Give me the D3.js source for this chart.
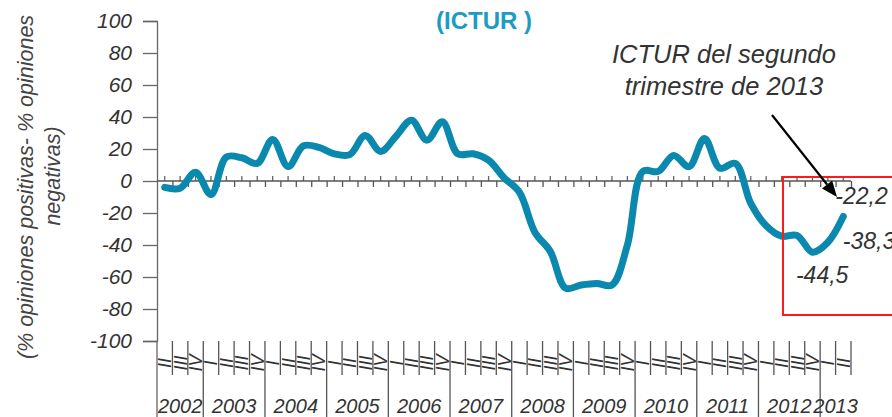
<!DOCTYPE html>
<html>
<head>
<meta charset="utf-8">
<script src="https://cdn.jsdelivr.net/npm/d3@7"></script>
<style>
  html, body { margin: 0; padding: 0; background: #fff; }
  svg { display: block; }
  text { font-family: "Liberation Sans", Arial, Helvetica, sans-serif; }
</style>
</head>
<body>
<svg id="chart" width="892" height="417"></svg>
<script>
// ---------- data ----------
const years = ["2002","2003","2004","2005","2006","2007","2008","2009","2010","2011","2012","2013"];
const quartersPerYear = [
  ["II","III","IV"],
  ["I","II","III","IV"], ["I","II","III","IV"], ["I","II","III","IV"], ["I","II","III","IV"],
  ["I","II","III","IV"], ["I","II","III","IV"], ["I","II","III","IV"], ["I","II","III","IV"],
  ["I","II","III","IV"], ["I","II","III","IV"],
  ["I","II"]
];
const ictur = [-4, -4.5, 5.5, -8.5, 15, 14.5, 11, 26, 9, 22, 21, 17, 16.5, 28.5, 18.5,
  28, 38, 25.5, 37, 17, 17, 13, 2, -7, -32, -44, -67, -65, -64, -65, -40,
  6, 6, 16, 9, 26.5, 8, 11, -14, -28, -34.5, -34, -44.5, -38.3, -22.2];
const yTicks = [100, 80, 60, 40, 20, 0, -20, -40, -60, -80, -100];
const highlighted = [
  {index: 44, text: "-22,2", dx: -8, dy: -12.5},
  {index: 43, text: "-38,3", dx: 15, dy: 7},
  {index: 42, text: "-44,5", dx: -16.5, dy: 31}
];
const titleText = "(ICTUR )";
const yLabelLines = ["(% opiniones positivas- % opiniones", "negativas)"];
const noteLines = ["ICTUR del segundo", "trimestre de 2013"];

(function () {
const cats = [];
quartersPerYear.forEach((qs, yi) => qs.forEach(q => cats.push({year: years[yi], q})));

const svg = d3.select("#chart");
const pLeft = 157, pRight = 851, pTop = 21, pBottom = 341;

const x = d3.scaleBand().domain(d3.range(cats.length)).range([pLeft, pRight]).padding(0);
const xb = d3.scaleLinear().domain([0, cats.length]).range([pLeft, pRight]);
const y = d3.scaleLinear().domain([-100, 100]).range([pBottom, pTop]);
const cx = i => x(i) + x.bandwidth() / 2;

const textCol = "#333";

// ---------- y axis ----------
const yAxis = svg.append("g").attr("transform", `translate(${pLeft},0)`)
  .call(d3.axisLeft(y).tickValues(yTicks).tickSize(14).tickPadding(11).tickFormat(d => String(d)));
yAxis.select(".domain").attr("stroke", "#666").attr("stroke-width", 1.3);
yAxis.selectAll(".tick line").attr("stroke", "#666").attr("stroke-width", 1.3);
yAxis.selectAll(".tick text").attr("font-size", 21).attr("font-style", "italic").attr("fill", textCol)
  .attr("font-family", "'Liberation Sans', Arial, sans-serif");
svg.append("line").attr("x1", pLeft).attr("x2", pLeft).attr("y1", pBottom).attr("y2", 417)
  .attr("stroke", "#666").attr("stroke-width", 1.3);

// ---------- x axis on zero ----------
const xTop = svg.append("g").attr("transform", `translate(0,${y(0)})`)
  .call(d3.axisTop(x).tickSize(5).tickFormat(""));
xTop.select(".domain").remove();
xTop.selectAll(".tick line").attr("stroke", "#666").attr("stroke-width", 1.3);
const xBot = svg.append("g").attr("transform", `translate(0,${y(0)})`)
  .call(d3.axisBottom(xb).tickValues(d3.range(1, cats.length + 1)).tickSize(6).tickFormat(""));
xBot.select(".domain").remove();
xBot.selectAll(".tick line").attr("stroke", "#555").attr("stroke-width", 1.3);
svg.append("line").attr("x1", pLeft).attr("x2", pRight).attr("y1", y(0)).attr("y2", y(0))
  .attr("stroke", "#555").attr("stroke-width", 1.3);

// ---------- category area ----------
const yearStart = [];
let acc = 0;
quartersPerYear.forEach(qs => { yearStart.push(acc); acc += qs.length; });
const yearStartSet = new Set(yearStart);
d3.range(1, cats.length + 1).forEach(k => {
  const full = yearStartSet.has(k);
  svg.append("line").attr("x1", xb(k)).attr("x2", xb(k))
    .attr("y1", pBottom).attr("y2", full ? 417 : 375)
    .attr("stroke", "#555").attr("stroke-width", 1.3);
});
svg.append("g").selectAll("text").data(cats).join("text")
  .attr("transform", (d, i) => `translate(${cx(i) + 6.5},363) rotate(-90)`)
  .attr("text-anchor", "middle").attr("font-size", 18).attr("font-style", "italic")
  .attr("fill", textCol).text(d => d.q);
svg.append("g").selectAll("text").data(years).join("text")
  .attr("x", (d, i) => (xb(yearStart[i]) + xb(yearStart[i] + quartersPerYear[i].length)) / 2)
  .attr("y", 413).attr("text-anchor", "middle").attr("font-size", 20)
  .attr("font-style", "italic").attr("fill", textCol).text(d => d);

// ---------- line ----------
const line = d3.line().x((d, i) => cx(i)).y(d => y(d)).curve(d3.curveCatmullRom.alpha(0.5));
svg.append("path").datum(ictur).attr("d", line).attr("fill", "none")
  .attr("stroke", "#0a88ad").attr("stroke-width", 7)
  .attr("stroke-linecap", "round").attr("stroke-linejoin", "round");

// ---------- title ----------
svg.append("text").attr("x", 484).attr("y", 29).attr("text-anchor", "middle")
  .attr("font-size", 24).attr("font-weight", "bold").attr("fill", "#1a9cc4").text(titleText);

// ---------- y label ----------
svg.append("text").attr("transform", "translate(33,187) rotate(-90)").attr("text-anchor", "middle")
  .attr("font-size", 21.5).attr("font-style", "italic").attr("fill", "#444").text(yLabelLines[0]);
svg.append("text").attr("transform", "translate(59.5,176) rotate(-90)").attr("text-anchor", "middle")
  .attr("font-size", 21.5).attr("font-style", "italic").attr("fill", "#444").text(yLabelLines[1]);

// ---------- highlight box ----------
svg.append("rect").attr("x", 783).attr("y", 177).attr("width", 130).attr("height", 138)
  .attr("fill", "none").attr("stroke", "#ff1a1a").attr("stroke-width", 2);

// ---------- value labels ----------
svg.append("g").selectAll("text").data(highlighted).join("text")
  .attr("x", d => cx(d.index) + d.dx).attr("y", d => y(ictur[d.index]) + d.dy)
  .attr("font-size", 23).attr("font-style", "italic").attr("fill", textCol).text(d => d.text);

// ---------- annotation ----------
svg.append("g").selectAll("text").data(noteLines).join("text")
  .attr("x", 724).attr("y", (d, i) => 63 + i * 32).attr("text-anchor", "middle")
  .attr("font-size", 25.5).attr("font-style", "italic").attr("fill", textCol).text(d => d);
const a0 = [772, 115], a1 = [837, 197];
const ang = Math.atan2(a1[1] - a0[1], a1[0] - a0[0]);
const hl = 16, hw = 6.5;
const base = [a1[0] - hl * Math.cos(ang), a1[1] - hl * Math.sin(ang)];
svg.append("line").attr("x1", a0[0]).attr("y1", a0[1]).attr("x2", base[0]).attr("y2", base[1])
  .attr("stroke", "#000").attr("stroke-width", 2.2);
svg.append("path").attr("d", d3.line()([
  a1,
  [base[0] + hw * Math.sin(ang), base[1] - hw * Math.cos(ang)],
  [base[0] - hw * Math.sin(ang), base[1] + hw * Math.cos(ang)]
]) + "Z").attr("fill", "#000");
})();
</script>
</body>
</html>
